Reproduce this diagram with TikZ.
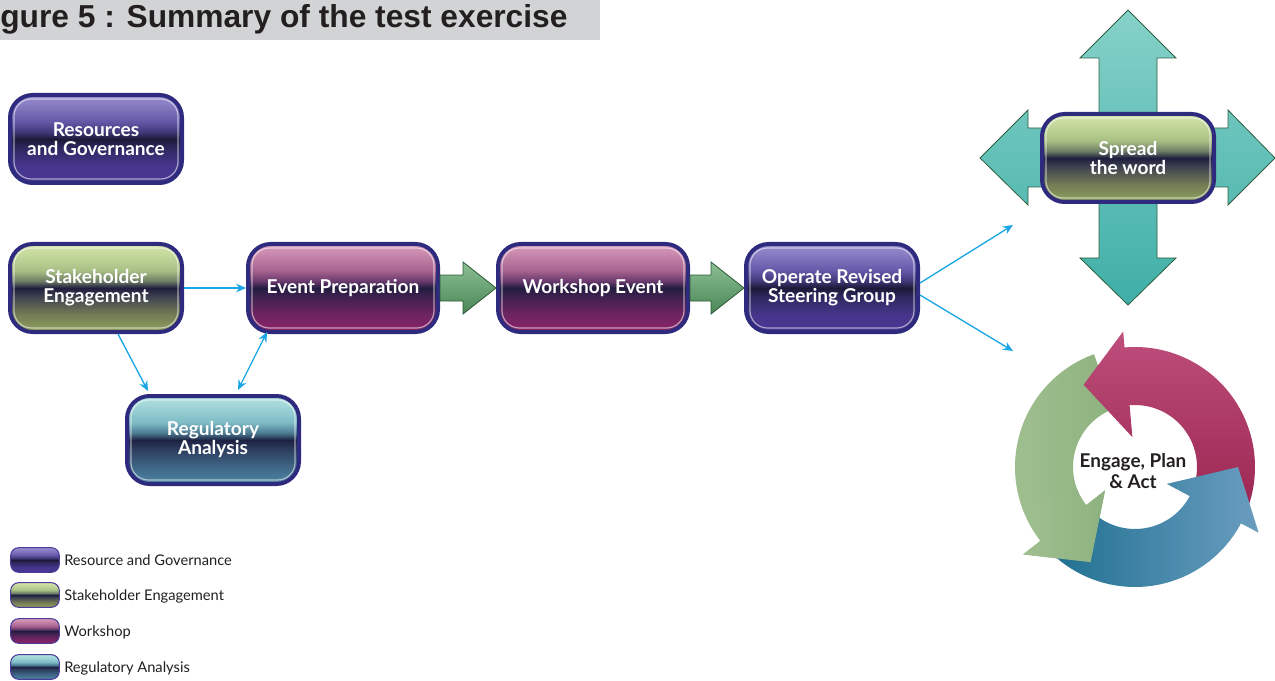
\documentclass[tikz,border=0pt]{standalone}
\usepackage{fontspec}
\setmainfont{Lato}
\newfontfamily\arialfont{Liberation Sans}
\usetikzlibrary{calc,arrows.meta}
\definecolor{navy}{HTML}{2E2A7E}
\definecolor{titlegray}{HTML}{D1D3D4}
\definecolor{ink}{HTML}{231F20}
\definecolor{cyanline}{HTML}{1BA6E5}
\definecolor{legborder}{HTML}{4B3B9B}
% purple
\definecolor{pA}{HTML}{4A3593}\definecolor{pB}{HTML}{46368C}\definecolor{pC}{HTML}{2E2860}
\definecolor{pD}{HTML}{1C1A38}\definecolor{pE}{HTML}{3E3878}\definecolor{pF}{HTML}{6658A8}
\definecolor{pG}{HTML}{8A7EC4}\definecolor{pH}{HTML}{978DCC}
% green
\definecolor{gA}{HTML}{8FA05C}\definecolor{gB}{HTML}{737C55}\definecolor{gC}{HTML}{3F4350}
\definecolor{gD}{HTML}{1E1E3E}\definecolor{gE}{HTML}{6E7E66}\definecolor{gF}{HTML}{A9C085}
\definecolor{gG}{HTML}{C8DB9E}\definecolor{gH}{HTML}{D4E4AA}
% magenta
\definecolor{mA}{HTML}{8C2468}\definecolor{mB}{HTML}{6E2461}\definecolor{mC}{HTML}{3F2150}
\definecolor{mD}{HTML}{231C3F}\definecolor{mE}{HTML}{6A3A6E}\definecolor{mF}{HTML}{A8638F}
\definecolor{mG}{HTML}{CA8AAE}\definecolor{mH}{HTML}{D79BBB}
% teal
\definecolor{tA}{HTML}{4E85A5}\definecolor{tB}{HTML}{3F6585}\definecolor{tC}{HTML}{2D3D5E}
\definecolor{tD}{HTML}{1D2242}\definecolor{tE}{HTML}{4C7A92}\definecolor{tF}{HTML}{7FBCC6}
\definecolor{tG}{HTML}{A3D7D9}\definecolor{tH}{HTML}{B0E0DF}
% block arrows
\definecolor{baTop}{HTML}{8CBF94}\definecolor{baBot}{HTML}{4A8656}\definecolor{baLine}{HTML}{2C5A35}
\definecolor{crTop}{HTML}{86D1C9}\definecolor{crBot}{HTML}{3FAFA7}\definecolor{crLine}{HTML}{2F5F3F}
% cycle
\definecolor{cyM1}{HTML}{BE4E7C}\definecolor{cyM2}{HTML}{9C2752}
\definecolor{cyG1}{HTML}{8DB27F}\definecolor{cyG2}{HTML}{A0BF90}
\definecolor{cyB1}{HTML}{1E6F8F}\definecolor{cyB2}{HTML}{6A9DC0}

\pgfdeclareverticalshading{purpshade}{100bp}{color(0bp)=(pA); color(25bp)=(pA); color(35bp)=(pB); color(45bp)=(pC); color(50bp)=(pD); color(54bp)=(pE); color(60bp)=(pF); color(70bp)=(pG); color(75bp)=(pH); color(100bp)=(pH)}
\pgfdeclareverticalshading{greenshade}{100bp}{color(0bp)=(gA); color(25bp)=(gA); color(35bp)=(gB); color(45bp)=(gC); color(50bp)=(gD); color(54bp)=(gE); color(60bp)=(gF); color(70bp)=(gG); color(75bp)=(gH); color(100bp)=(gH)}
\pgfdeclareverticalshading{magshade}{100bp}{color(0bp)=(mA); color(25bp)=(mA); color(35bp)=(mB); color(45bp)=(mC); color(50bp)=(mD); color(54bp)=(mE); color(60bp)=(mF); color(70bp)=(mG); color(75bp)=(mH); color(100bp)=(mH)}
\pgfdeclareverticalshading{tealshade}{100bp}{color(0bp)=(tA); color(25bp)=(tA); color(35bp)=(tB); color(45bp)=(tC); color(50bp)=(tD); color(54bp)=(tE); color(60bp)=(tF); color(70bp)=(tG); color(75bp)=(tH); color(100bp)=(tH)}

\begin{document}
\begin{tikzpicture}[x=0.75pt,y=-0.75pt,
  box/.style={draw=navy, line width=3pt, rounded corners=17pt, minimum width=129pt,
    minimum height=66pt, inner sep=0pt, text=white, align=center,
    font=\bfseries\fontsize{14.3}{14.25}\selectfont},
  wide/.style={minimum width=142.5pt},
  hl/.style={draw=white, draw opacity=0.55, line width=0.9pt, rounded corners=13pt},
  conn/.style={draw=cyanline, line width=1pt, -{Stealth[length=7.5pt,width=6.5pt,inset=2.5pt]}},
  conn2/.style={draw=cyanline, line width=1pt, {Stealth[length=7.5pt,width=6.5pt,inset=2.5pt]}-{Stealth[length=7.5pt,width=6.5pt,inset=2.5pt]}},
  blockarrow/.style={draw=baLine, line width=0.6pt, top color=baTop, bottom color=baBot},
  leg/.style={draw=legborder, line width=0.8pt, rounded corners=6pt, minimum width=36.5pt,
    minimum height=18.5pt, inner sep=0pt},
  legtext/.style={anchor=west, inner sep=0pt, text=ink, font=\fontsize{11}{13}\selectfont}]
\useasboundingbox (0,0) rectangle (1275,681);

% title
\fill[titlegray] (0,0) rectangle (600,40);
\node[anchor=base west, inner sep=0pt, text=ink,
  font=\arialfont\bfseries\fontsize{23.8}{28}\selectfont] (title) at (0,28) {gure 5 : Summary of the test exercise};

% cross arrow behind "Spread the word"
\path[draw=crLine, line width=0.6pt, top color=crTop, bottom color=crBot]
  (1128,10) -- (1176,58) -- (1157,58) -- (1157,128) -- (1228,128) -- (1228,110) -- (1275,158)
  -- (1228,205) -- (1228,187) -- (1157,187) -- (1157,258) -- (1176,258) -- (1128,305)
  -- (1080,258) -- (1099,258) -- (1099,187) -- (1028,187) -- (1028,205) -- (980,158)
  -- (1028,110) -- (1028,128) -- (1099,128) -- (1099,58) -- (1080,58) -- cycle;

% boxes
\node[box, shade, shading=purpshade] (rg) at (96,139) {Resources\\and Governance};
\node[box, shade, shading=greenshade] (se) at (96,288) {Stakeholder\\Engagement};
\node[box, wide, shade, shading=magshade] (ep) at (343,288) {Event Preparation};
\node[box, shade, shading=tealshade] (ra) at (213,440) {Regulatory\\Analysis};
\node[box, wide, shade, shading=magshade] (we) at (593,288) {Workshop Event};
\node[box, shade, shading=purpshade] (op) at (832,288) {Operate Revised\\Steering Group};
\node[box, shade, shading=greenshade] (sw) at (1128,158) {Spread\\the word};

\foreach \n in {rg,se,ep,ra,we,op,sw}
  \draw[hl] ($(\n.south west)+(6,-6)$) rectangle ($(\n.north east)+(-6,6)$);

% green block arrows
\path[blockarrow] ($(ep.east)+(0,-13)$) -- ($(we.west)+(-33,-13)$) -- ($(we.west)+(-33,-26)$)
  -- (we.west) -- ($(we.west)+(-33,26)$) -- ($(we.west)+(-33,13)$) -- ($(ep.east)+(0,13)$) -- cycle;
\path[blockarrow] ($(we.east)+(0,-13)$) -- ($(op.west)+(-33,-13)$) -- ($(op.west)+(-33,-26)$)
  -- (op.west) -- ($(op.west)+(-33,26)$) -- ($(op.west)+(-33,13)$) -- ($(we.east)+(0,13)$) -- cycle;

% blue connectors
\draw[conn] (se.east) -- (ep.west);
\draw[conn] ($(se.south)+(22,0)$) -- ($(ra.north)+(-65,-3)$);
\draw[conn2] ($(ra.north)+(25,-4)$) -- ($(ep.south west)+(21,-2)$);
\coordinate (t1) at (1013,225);
\coordinate (t2) at (1013,351);
\draw[conn] ($(op.east)+(0,-5)$) -- (t1);
\draw[conn] ($(op.east)+(0,7)$) -- (t2);

% cycle
\begin{scope}[shift={(1135,467)}, yscale=-1]
  \path[left color=cyG2, right color=cyG1]
    (110:120) arc[start angle=110, end angle=218, radius=120] -- (218:142) -- (245:105)
    -- (218:38) -- (218:62) arc[start angle=218, end angle=110, radius=62] -- cycle;
  \path[top color=cyM1, bottom color=cyM2]
    (-20:120) arc[start angle=-20, end angle=95, radius=120] -- (95:136) -- (122:97)
    -- (95:30) -- (95:62) arc[start angle=95, end angle=-20, radius=62] -- cycle;
  \path[left color=cyB1, right color=cyB2]
    (222:120) arc[start angle=222, end angle=332, radius=120] -- (332:140) -- (360:103)
    -- (332:36) -- (332:62) arc[start angle=332, end angle=222, radius=62] -- cycle;
  \path[left color=cyG2, right color=cyG1]
    (218:120) -- (218:142) -- (245:105) -- (218:38) -- (218:62)
    arc[start angle=218, end angle=200, radius=62] -- (200:120) -- cycle;
\end{scope}
\node[align=center, inner sep=0pt, text=ink, font=\bfseries\fontsize{14.2}{15.5}\selectfont] (epa) at (1133,471) {Engage, Plan\\\& Act};

% legend
\node[leg, shade, shading=purpshade] (l1) at (35,560) {};
\node[leg, shade, shading=greenshade] (l2) at (35,595) {};
\node[leg, shade, shading=magshade] (l3) at (35,631) {};
\node[leg, shade, shading=tealshade] (l4) at (35,667) {};
\node[legtext] (l1t) at (64,560) {Resource and Governance};
\node[legtext] (l2t) at (64,596) {Stakeholder Engagement};
\node[legtext] (l3t) at (64,632) {Workshop};
\node[legtext] (l4t) at (64,668) {Regulatory Analysis};
\end{tikzpicture}
\end{document}
